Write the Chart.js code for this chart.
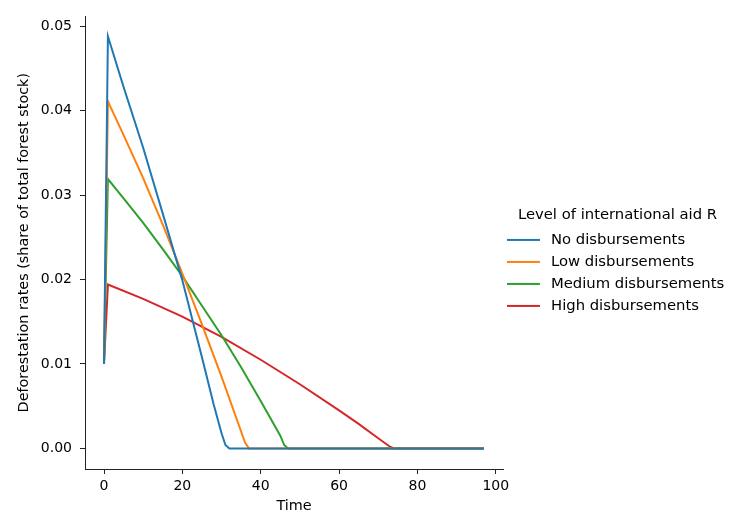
<!DOCTYPE html>
<html><head><meta charset="utf-8">
<script src="https://cdn.jsdelivr.net/npm/chart.js@4.4.0/dist/chart.umd.min.js"></script>
<style>html,body{margin:0;padding:0;background:#fff;}#wrap{width:732px;height:521px;}</style>
</head><body><div id="wrap"><canvas id="c" width="732" height="521"></canvas></div>
<script>
const legendTitle = 'Level of international aid R';
const seriesNames = ['No disbursements', 'Low disbursements', 'Medium disbursements', 'High disbursements'];
const seriesColors = ['#1f77b4', '#ff7f0e', '#2ca02c', '#d62728'];

const noTime = [0, 1, 5, 10, 15, 20, 25, 28, 30, 31, 32, 97];
const noValue = [0.0100, 0.0488, 0.0428, 0.0356, 0.0278, 0.0199, 0.0108, 0.0052, 0.0018, 0.0004, 0.0, 0.0];

const lowTime = [0, 1, 5, 10, 15, 20, 25, 30, 35, 36, 37, 97];
const lowValue = [0.0100, 0.0411, 0.0371, 0.0320, 0.0265, 0.0207, 0.0147, 0.0085, 0.0020, 0.0007, 0.0, 0.0];

const medTime = [0, 1, 5, 10, 15, 20, 25, 30, 35, 40, 45, 46, 47, 97];
const medValue = [0.0100, 0.0319, 0.0296, 0.0267, 0.0236, 0.0204, 0.0169, 0.0134, 0.0096, 0.0056, 0.0015, 0.0004, 0.0, 0.0];

const highTime = [0, 1, 10, 20, 30, 40, 50, 60, 65, 70, 73, 74, 97];
const highValue = [0.0100, 0.0194, 0.0177, 0.0156, 0.0132, 0.0105, 0.0076, 0.0045, 0.0029, 0.0012, 0.0002, 0.0, 0.0];

const xTicks = [0, 20, 40, 60, 80, 100];
const yTicks = [0.00, 0.01, 0.02, 0.03, 0.04, 0.05];

const times = [noTime, lowTime, medTime, highTime];
const values = [noValue, lowValue, medValue, highValue];

function legendLine(color) {
  const c = document.createElement('canvas');
  c.width = 40; c.height = 4;
  const g = c.getContext('2d');
  g.fillStyle = color;
  g.fillRect(0, 1, 33, 2);
  return c;
}

Chart.defaults.font.family = "'DejaVu Sans', sans-serif";
Chart.defaults.color = '#000';

const datasets = seriesNames.map((name, i) => ({
  label: name,
  data: times[i].map((t, j) => ({x: t, y: values[i][j]})),
  borderColor: seriesColors[i],
  backgroundColor: seriesColors[i],
  borderWidth: 2,
  pointRadius: 0,
  pointHoverRadius: 0,
  pointStyle: legendLine(seriesColors[i]),
  tension: 0,
  fill: false
}));

// let the legend be wider than Chart.js's default quarter-of-canvas limit
const legendWidthPlugin = {
  id: 'legendWidth',
  beforeLayout(chart) {
    const lg = chart.legend;
    if (lg && !lg._widePatchApplied) {
      const orig = lg.update;
      lg.update = function (maxWidth, maxHeight, margins) {
        return orig.call(this, 229, maxHeight, margins);
      };
      lg._widePatchApplied = true;
    }
  }
};

new Chart(document.getElementById('c'), {
  type: 'line',
  data: {datasets},
  plugins: [legendWidthPlugin],
  options: {
    responsive: false,
    animation: false,
    devicePixelRatio: 1,
    layout: {padding: {top: 7, right: 0, left: 0, bottom: 0}},
    plugins: {
      tooltip: {enabled: false},
      legend: {
        position: 'right',
        maxWidth: 229,
        title: {display: true, text: legendTitle, font: {size: 14.8}, color: '#000', padding: 0},
        labels: {
          usePointStyle: true,
          pointStyleWidth: 33.4,
          padding: 7.2,
          font: {size: 14.8},
          color: '#000'
        }
      }
    },
    scales: {
      x: {
        type: 'linear',
        min: -4.85, max: 101.85,
        afterFit: s => { s.height = 52; },
        afterBuildTicks: s => { s.ticks = xTicks.map(v => ({value: v})); },
        ticks: {padding: 4, font: {size: 14}, color: '#000', maxRotation: 0, callback: v => String(v)},
        grid: {display: true, drawOnChartArea: false, drawTicks: true, tickLength: 5, tickColor: '#222', lineWidth: 1},
        border: {display: true, color: '#222', width: 1},
        title: {display: true, text: 'Time', font: {size: 14.4}, color: '#000', padding: {top: 2, bottom: 6}}
      },
      y: {
        type: 'linear',
        min: -0.00244, max: 0.05116,
        afterFit: s => { s.width = 85; },
        afterBuildTicks: s => { s.ticks = yTicks.map(v => ({value: v})); },
        ticks: {padding: 8, font: {size: 14}, color: '#000', callback: v => Number(v).toFixed(2)},
        grid: {display: true, drawOnChartArea: false, drawTicks: true, tickLength: 5, tickColor: '#222', lineWidth: 1},
        border: {display: true, color: '#222', width: 1},
        title: {display: true, text: 'Deforestation rates (share of total forest stock)', font: {size: 14.4}, color: '#000', padding: {top: 16, bottom: 0}}
      }
    }
  }
});
</script>
</body></html>
